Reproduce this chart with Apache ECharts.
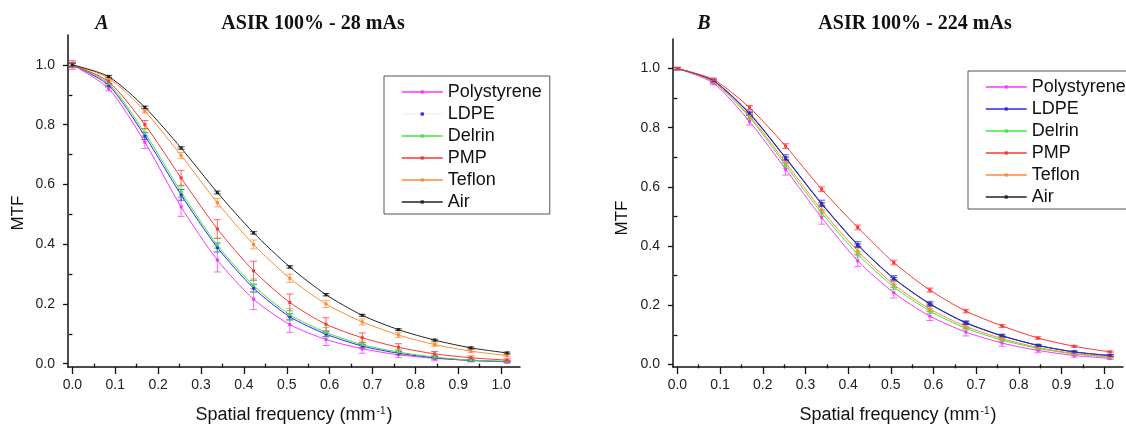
<!DOCTYPE html>
<html>
<head>
<meta charset="utf-8">
<script src="https://cdn.jsdelivr.net/npm/echarts@6/dist/echarts.min.js"></script>
<style>
html, body { margin: 0; padding: 0; background: #fff; }
#mtfGraph { width: 1126px; height: 429px; }
</style>
</head>
<body>
<div id="mtfGraph"></div>
<script>
// spatial frequency sample points (mm^-1)
var freq = [0, 0.0845, 0.169, 0.2535, 0.338, 0.4225, 0.507, 0.5915, 0.676, 0.7605, 0.845, 0.9295, 1.014];

var materials = ['Polystyrene', 'LDPE', 'Delrin', 'PMP', 'Teflon', 'Air'];
var colors = ['#ff33ff', '#2a2aee', '#3ee83e', '#ff3333', '#ff8a33', '#222222'];

// panel A : ASIR 100% - 28 mAs
var polyA   = [1.0, 0.921, 0.741, 0.525, 0.347, 0.216, 0.131, 0.081, 0.050, 0.030, 0.018, 0.011, 0.006];
var ldpeA   = [1.0, 0.932, 0.762, 0.565, 0.389, 0.253, 0.157, 0.099, 0.059, 0.035, 0.020, 0.011, 0.007];
var delrinA = [1.0, 0.938, 0.772, 0.575, 0.397, 0.262, 0.164, 0.105, 0.064, 0.039, 0.022, 0.012, 0.008];
var pmpA    = [1.0, 0.944, 0.800, 0.622, 0.451, 0.311, 0.205, 0.132, 0.087, 0.055, 0.033, 0.020, 0.012];
var teflonA = [1.0, 0.956, 0.845, 0.697, 0.539, 0.399, 0.286, 0.200, 0.140, 0.096, 0.064, 0.042, 0.027];
var airA    = [1.0, 0.961, 0.858, 0.722, 0.573, 0.438, 0.324, 0.231, 0.162, 0.114, 0.079, 0.053, 0.036];

var polyErrA   = [0.015, 0.008, 0.021, 0.032, 0.040, 0.035, 0.026, 0.020, 0.015, 0.010, 0.008, 0.005, 0.004];
var ldpeErrA   = [0.008, 0.006, 0.012, 0.018, 0.015, 0.013, 0.010, 0.008, 0.006, 0.005, 0.004, 0.003, 0.002];
var delrinErrA = [0.010, 0.008, 0.015, 0.020, 0.022, 0.022, 0.020, 0.016, 0.012, 0.009, 0.006, 0.004, 0.003];
var pmpErrA    = [0.008, 0.008, 0.014, 0.025, 0.031, 0.032, 0.028, 0.022, 0.016, 0.012, 0.008, 0.006, 0.004];
var teflonErrA = [0.006, 0.006, 0.006, 0.010, 0.014, 0.015, 0.014, 0.012, 0.010, 0.008, 0.006, 0.005, 0.004];
var airErrA    = [0.004, 0.004, 0.004, 0.004, 0.005, 0.004, 0.004, 0.004, 0.003, 0.003, 0.003, 0.003, 0.003];

// panel B : ASIR 100% - 224 mAs
var polyB   = [1.0, 0.951, 0.821, 0.660, 0.496, 0.350, 0.242, 0.163, 0.109, 0.072, 0.047, 0.030, 0.020];
var ldpeB   = [1.0, 0.959, 0.849, 0.699, 0.544, 0.405, 0.291, 0.205, 0.141, 0.097, 0.064, 0.042, 0.030];
var delrinB = [1.0, 0.955, 0.835, 0.673, 0.512, 0.372, 0.262, 0.180, 0.122, 0.082, 0.054, 0.035, 0.024];
var pmpB    = [1.0, 0.963, 0.868, 0.738, 0.592, 0.463, 0.344, 0.251, 0.180, 0.130, 0.089, 0.061, 0.042];
var teflonB = [1.0, 0.956, 0.840, 0.682, 0.522, 0.383, 0.270, 0.187, 0.128, 0.087, 0.057, 0.037, 0.026];
var airB    = [1.0, 0.958, 0.847, 0.697, 0.542, 0.403, 0.290, 0.204, 0.140, 0.096, 0.064, 0.042, 0.029];

var polyErrB   = [0.004, 0.006, 0.012, 0.020, 0.022, 0.020, 0.018, 0.015, 0.013, 0.011, 0.008, 0.006, 0.004];
var ldpeErrB   = [0.004, 0.005, 0.007, 0.010, 0.011, 0.010, 0.009, 0.008, 0.006, 0.005, 0.004, 0.003, 0.003];
var delrinErrB = [0.004, 0.005, 0.008, 0.010, 0.011, 0.010, 0.009, 0.008, 0.006, 0.005, 0.004, 0.003, 0.003];
var pmpErrB    = [0.004, 0.005, 0.007, 0.008, 0.008, 0.008, 0.008, 0.007, 0.006, 0.005, 0.004, 0.003, 0.003];
var teflonErrB = [0.004, 0.005, 0.008, 0.010, 0.011, 0.010, 0.009, 0.008, 0.006, 0.005, 0.004, 0.003, 0.003];
var airErrB    = [0.003, 0.003, 0.004, 0.004, 0.004, 0.004, 0.004, 0.003, 0.003, 0.003, 0.003, 0.003, 0.003];

var xMajorTicks = [0, 0.1, 0.2, 0.3, 0.4, 0.5, 0.6, 0.7, 0.8, 0.9, 1.0];
var xMinorTicks = [0.05, 0.15, 0.25, 0.35, 0.45, 0.55, 0.65, 0.75, 0.85, 0.95];
var yMajorTicks = [0, 0.2, 0.4, 0.6, 0.8, 1.0];
var yMinorTicks = [0.1, 0.3, 0.5, 0.7, 0.9];

var titleA = 'ASIR 100% - 28 mAs';
var titleB = 'ASIR 100% - 224 mAs';

var sans = '"Liberation Sans", Arial, sans-serif';
var serif = '"Liberation Serif", "Times New Roman", serif';

var mtfChart = echarts.init(document.getElementById('mtfGraph'));

function errorBarItem(params, api) {
    var x = api.value(0);
    var lo = api.coord([x, api.value(1)]);
    var hi = api.coord([x, api.value(2)]);
    var half = 3.5;
    var style = { stroke: api.visual('color'), lineWidth: 1, opacity: 0.75 };
    return {
        type: 'group',
        children: [
            { type: 'line', shape: { x1: lo[0], y1: lo[1], x2: hi[0], y2: hi[1] }, style: style },
            { type: 'line', shape: { x1: lo[0] - half, y1: lo[1], x2: lo[0] + half, y2: lo[1] }, style: style },
            { type: 'line', shape: { x1: hi[0] - half, y1: hi[1], x2: hi[0] + half, y2: hi[1] }, style: style }
        ]
    };
}

var series = [];
function addMaterial(idx, vals, errs, axisIdx) {
    var name = materials[idx];
    var color = colors[idx];
    series.push({
        type: 'line',
        name: name,
        xAxisIndex: axisIdx,
        yAxisIndex: axisIdx,
        data: freq.map(function (f, i) { return [f, vals[i]]; }),
        smooth: 0.25,
        symbol: 'rect',
        symbolSize: 3,
        lineStyle: { width: 1, color: color },
        itemStyle: { color: color },
        z: 3
    });
    series.push({
        type: 'custom',
        name: name + ' err',
        xAxisIndex: axisIdx,
        yAxisIndex: axisIdx,
        renderItem: errorBarItem,
        itemStyle: { color: color },
        encode: { x: 0, y: [1, 2] },
        data: freq.map(function (f, i) { return [f, vals[i] - errs[i], vals[i] + errs[i]]; }),
        z: 2
    });
}

addMaterial(0, polyA, polyErrA, 0);
addMaterial(1, ldpeA, ldpeErrA, 0);
addMaterial(2, delrinA, delrinErrA, 0);
addMaterial(3, pmpA, pmpErrA, 0);
addMaterial(4, teflonA, teflonErrA, 0);
addMaterial(5, airA, airErrA, 0);

addMaterial(5, airB, airErrB, 2);
addMaterial(0, polyB, polyErrB, 2);
addMaterial(2, delrinB, delrinErrB, 2);
addMaterial(4, teflonB, teflonErrB, 2);
addMaterial(1, ldpeB, ldpeErrB, 2);
addMaterial(3, pmpB, pmpErrB, 2);

function xAxes(gridIdx) {
    var base = {
        type: 'value', gridIndex: gridIdx, position: 'bottom', min: -0.0103, max: 1.044,
        splitLine: { show: false }
    };
    return [
        Object.assign({}, base, {
            axisLine: { show: true, onZero: false, lineStyle: { color: '#111', width: 1.5 } },
            axisTick: { show: true, customValues: xMajorTicks, length: 7, lineStyle: { color: '#111', width: 1.3 } },
            axisLabel: {
                customValues: xMajorTicks, margin: 11, fontSize: 14, fontFamily: sans, color: '#222',
                formatter: function (v) { return v.toFixed(1); }
            },
            name: '{a|Spatial frequency (mm}{s|-1}{a|)}',
            nameLocation: 'middle',
            nameGap: 39,
            nameTextStyle: {
                rich: {
                    a: { fontSize: 18, fontFamily: sans, color: '#111' },
                    s: { fontSize: 10, fontFamily: sans, color: '#111', verticalAlign: 'top', padding: [0, 1, 0, 1] }
                }
            }
        }),
        Object.assign({}, base, {
            axisLine: { show: false },
            axisTick: { show: true, customValues: xMinorTicks, length: 4, lineStyle: { color: '#111', width: 1.3 } },
            axisLabel: { show: false }
        })
    ];
}

function yAxes(gridIdx, minVal) {
    var base = {
        type: 'value', gridIndex: gridIdx, position: 'left', min: minVal, max: 1.1,
        splitLine: { show: false }
    };
    return [
        Object.assign({}, base, {
            axisLine: { show: true, onZero: false, lineStyle: { color: '#111', width: 1.5 } },
            axisTick: { show: true, customValues: yMajorTicks, length: 5, lineStyle: { color: '#111', width: 1.3 } },
            axisLabel: {
                customValues: yMajorTicks, margin: 13, fontSize: 14, fontFamily: sans, color: '#222',
                formatter: function (v) { return v.toFixed(1); }
            }
        }),
        Object.assign({}, base, {
            axisLine: { show: false },
            axisTick: { show: true, customValues: yMinorTicks, length: 3.5, lineStyle: { color: '#111', width: 1.3 } },
            axisLabel: { show: false }
        })
    ];
}

function legendFor(left, top, ldpeLine) {
    return {
        orient: 'vertical',
        left: left,
        top: top,
        padding: [7, 8, 3, 17],
        itemWidth: 41,
        itemHeight: 4,
        itemGap: 4,
        borderColor: '#555',
        borderWidth: 1,
        borderRadius: 0,
        selectedMode: false,
        lineStyle: { width: 1.5 },
        textStyle: { fontSize: 18, fontFamily: sans, color: '#111', lineHeight: 18 },
        data: materials.map(function (m) {
            if (m === 'LDPE' && ldpeLine) return { name: m, lineStyle: { color: ldpeLine } };
            return { name: m };
        })
    };
}

function label(text, x, y, font, rot) {
    return {
        type: 'text', x: x, y: y, rotation: rot || 0,
        style: { text: text, font: font, fill: '#111', align: 'center', verticalAlign: 'middle' }
    };
}

var mtfOption = {
    animation: false,
    backgroundColor: '#ffffff',
    grid: [
        { left: 68, top: 35, width: 452, height: 334 },
        { left: 673, top: 39, width: 450, height: 334 }
    ],
    xAxis: xAxes(0).concat(xAxes(1)),
    yAxis: yAxes(0, -0.011).concat(yAxes(1, -0.009)),
    legend: [
        legendFor(384, 76, '#f2f2f6'),
        legendFor(968, 71, null)
    ],
    graphic: [
        label('A', 102, 24, 'italic bold 20px ' + serif),
        label(titleA, 313, 24, 'bold 20px ' + serif),
        label('B', 704, 24, 'italic bold 20px ' + serif),
        label(titleB, 915, 24, 'bold 20px ' + serif),
        label('MTF', 18, 213, '17px ' + sans, Math.PI / 2),
        label('MTF', 622, 218, '17px ' + sans, Math.PI / 2)
    ],
    series: series
};

mtfChart.setOption(mtfOption, true);
</script>
</body>
</html>
